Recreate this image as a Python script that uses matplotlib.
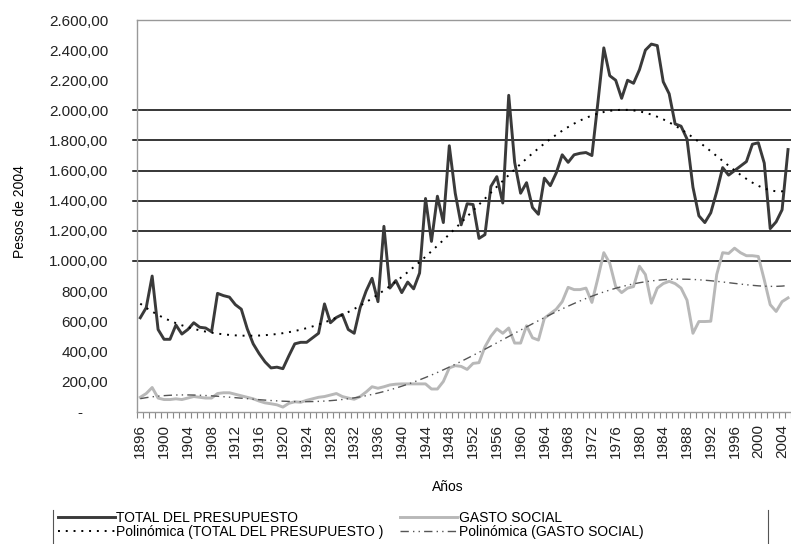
import matplotlib
matplotlib.use('Agg')
import matplotlib.pyplot as plt
from matplotlib.lines import Line2D
from matplotlib.ticker import FuncFormatter
import numpy as np

plt.rcParams['font.family'] = ['Liberation Sans', 'DejaVu Sans']

anios = np.arange(1896, 2006)

total = [623, 690, 900, 545, 480, 480, 575, 515, 545, 590,
         560, 555, 530, 785, 770, 760, 710, 680, 550, 450,
         385, 330, 290, 295, 285, 370, 450, 460, 460, 490,
         520, 715, 590, 625, 645, 545, 520, 690, 800, 885,
         730, 1230, 820, 870, 790, 860, 815, 920, 1415, 1130,
         1430, 1255, 1765, 1450, 1240, 1380, 1375, 1150, 1175, 1495,
         1560, 1385, 2100, 1655, 1450, 1520, 1355, 1310, 1550, 1500,
         1585, 1705, 1655, 1705, 1715, 1720, 1700, 2050, 2415, 2230,
         2200, 2080, 2200, 2180, 2270, 2400, 2440, 2430, 2190, 2110,
         1910, 1895, 1810, 1490, 1300, 1255, 1320, 1460, 1620, 1570,
         1600, 1630, 1660, 1775, 1785, 1650, 1215, 1260, 1340, 1740]

gasto = [95, 120, 160, 90, 80, 80, 85, 80, 90, 100,
         95, 90, 90, 120, 125, 125, 115, 105, 95, 85,
         70, 58, 52, 45, 30, 55, 65, 62, 75, 85,
         95, 100, 110, 120, 100, 90, 82, 100, 130, 165,
         155, 165, 177, 182, 184, 184, 184, 184, 184, 150,
         150, 200, 290, 305, 300, 280, 320, 325, 430, 500,
         550, 520, 555, 455, 455, 570, 490, 475, 620, 650,
         680, 730, 825, 810, 810, 820, 725, 885, 1055, 985,
         830, 790, 820, 830, 965, 910, 720, 820, 850, 865,
         850, 820, 740, 520, 598, 598, 600, 910, 1055, 1050,
         1085, 1055, 1035, 1035, 1030, 875, 710, 665, 730, 755]

# lineas de tendencia polinomicas (orden 6, como en Excel), ajustadas a los datos
t = (anios - anios.mean()) / 50.0
tend_total = np.polyval(np.polyfit(t, total, 6), t)
tend_gasto = np.polyval(np.polyfit(t, gasto, 6), t)

fig = plt.figure(figsize=(7.91, 5.44), dpi=100)
ax = fig.add_axes([137.3/791, 1-411.6/544, 1-137.3/791, (411.6-20)/544])

# rejilla solo entre 1.000 y 2.000
for v in range(1000, 2001, 200):
    ax.plot([-0.006, 1], [v, v], color='black', lw=1.1,
            transform=ax.get_yaxis_transform(), clip_on=False, zorder=1)

ax.plot(anios, total, color='#3a3a3a', lw=2.1, label='TOTAL DEL PRESUPUESTO', zorder=3)
ax.plot(anios, tend_total, color='black', lw=1.4, ls=(0, (1, 3)),
        label='Polinómica (TOTAL DEL PRESUPUESTO )', zorder=4)
ax.plot(anios, gasto, color='#b8b8b8', lw=2.1, label='GASTO SOCIAL', zorder=3)
ax.plot(anios, tend_gasto, color='#555555', lw=1.0, ls=(0, (6, 3, 1, 3, 1, 3)),
        label='Polinómica (GASTO SOCIAL)', zorder=4)

ax.set_xlim(1895.55, 2005.4)
ax.set_ylim(0, 2600)

ax.set_yticks(range(0, 2601, 200))
ax.yaxis.set_major_formatter(FuncFormatter(
    lambda v, p: '-      ' if v == 0 else f'{v:,.2f}'.replace(',', 'X').replace('.', ',').replace('X', '.')))
ax.tick_params(axis='y', length=0, pad=21, labelsize=11, labelcolor='#222222')

ax.set_xticks(anios[::4])
ax.set_xticks(np.arange(1895.5, 2006, 1), minor=True)
ax.tick_params(axis='x', which='major', length=0, pad=9, labelsize=11,
               labelrotation=90, labelcolor='#222222')
ax.tick_params(axis='x', which='minor', length=4, color='#888888', width=0.8)

for s in ax.spines.values():
    s.set_color('#999999')
    s.set_linewidth(1.0)
ax.spines['right'].set_visible(False)

fig.text(448/791, 1-487/544, 'Años', ha='center', va='center', fontsize=10)
fig.text(20/791, 1-212/544, 'Pesos de 2004', ha='center', va='center',
         rotation=90, fontsize=10)

handles, labels = ax.get_legend_handles_labels()
fig.legend(handles, labels, ncol=2, loc='upper left',
           bbox_to_anchor=(58/791, 1-511/544), frameon=False, fontsize=10,
           handlelength=4.1, handletextpad=0.1, labelspacing=0.0,
           columnspacing=1.2, borderpad=0, borderaxespad=0)
fig.add_artist(Line2D([53/791, 53/791], [0, 1-510/544], color='#555555', lw=0.8))
fig.add_artist(Line2D([768/791, 768/791], [0, 1-510/544], color='#555555', lw=0.8))

fig.savefig('out.png', dpi=100)
